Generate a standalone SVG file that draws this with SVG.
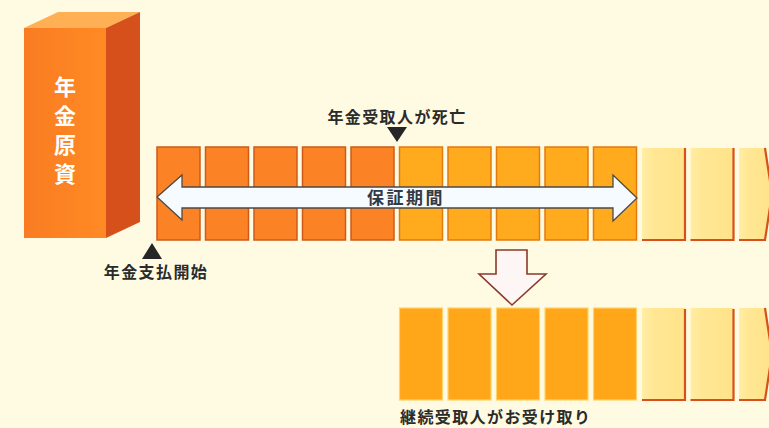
<svg xmlns="http://www.w3.org/2000/svg" width="769" height="428" viewBox="0 0 769 428">
  <defs>
    <style>
      .jp { font-family: "Noto Sans CJK JP", "Noto Sans CJK SC", sans-serif; font-weight: 700; }
      .label { fill: #2b2b2b; font-size: 16px; letter-spacing: 1.4px; }
      .dark { fill: #fb8326; stroke: #cf5a18; stroke-width: 1.5; }
      .mid { fill: #ffab1d; stroke: #e27a0f; stroke-width: 1.5; }
      .heir { fill: #ffa619; stroke: #ffd36a; stroke-width: 1.2; }
      .paleEdge { fill: none; stroke: #d6501c; stroke-width: 2.2; }
      .pointer { fill: #262626; }
    </style>
    <linearGradient id="frontFace" x1="0" y1="0" x2="1" y2="0">
      <stop offset="0" stop-color="#f97c22"/>
      <stop offset="1" stop-color="#ff8a24"/>
    </linearGradient>
    <linearGradient id="paleFill" x1="0" y1="0" x2="1" y2="0">
      <stop offset="0" stop-color="#ffeea6"/>
      <stop offset="0.25" stop-color="#ffe794"/>
      <stop offset="1" stop-color="#ffe38a"/>
    </linearGradient>
  </defs>

  <!-- background -->
  <rect x="0" y="0" width="769" height="428" fill="#fffbe2"/>

  <!-- pension fund pillar -->
  <g id="fund">
    <polygon points="24,28 58,12 140,12 106,28" fill="#ffb054"/>
    <polygon points="106,28 140,12 140,222 106,238" fill="#d6501b"/>
    <rect x="24" y="28" width="82" height="210" fill="url(#frontFace)"/>
    <text class="jp" x="65" y="76" fill="#ffffff" font-size="22" writing-mode="vertical-rl" letter-spacing="7">年金原資</text>
  </g>

  <!-- guaranteed payments: annuitant period -->
  <g id="payments-annuitant">
    <rect class="dark" x="157" y="147" width="43" height="93"/>
    <rect class="dark" x="205.5" y="147" width="43" height="93"/>
    <rect class="dark" x="254" y="147" width="43" height="93"/>
    <rect class="dark" x="302.5" y="147" width="43" height="93"/>
    <rect class="dark" x="351" y="147" width="43" height="93"/>
  </g>

  <!-- guaranteed payments after death -->
  <g id="payments-remaining">
    <rect class="mid" x="399.5" y="147" width="43" height="93"/>
    <rect class="mid" x="448" y="147" width="43" height="93"/>
    <rect class="mid" x="496.5" y="147" width="43" height="93"/>
    <rect class="mid" x="545" y="147" width="43" height="93"/>
    <rect class="mid" x="593.5" y="147" width="43" height="93"/>
  </g>

  <!-- payments beyond the guarantee (top row) -->
  <g id="payments-beyond-top">
    <rect x="642" y="148" width="43" height="92" fill="url(#paleFill)"/>
    <polyline class="paleEdge" points="685,148 685,240 642,240"/>
    <rect x="690.5" y="148" width="43" height="92" fill="url(#paleFill)"/>
    <polyline class="paleEdge" points="733.5,148 733.5,240 690.5,240"/>
    <polygon points="739,148 765,148 772,194 765,240 739,240" fill="url(#paleFill)"/>
    <polyline class="paleEdge" points="765,148 772,194 765,240 739,240"/>
  </g>

  <!-- payments received by the successor -->
  <g id="payments-heir">
    <rect class="heir" x="399.5" y="308" width="43" height="92"/>
    <rect class="heir" x="448" y="308" width="43" height="92"/>
    <rect class="heir" x="496.5" y="308" width="43" height="92"/>
    <rect class="heir" x="545" y="308" width="43" height="92"/>
    <rect class="heir" x="593.5" y="308" width="43" height="92"/>
  </g>

  <!-- payments beyond the guarantee (bottom row) -->
  <g id="payments-beyond-bottom">
    <rect x="642" y="308" width="43" height="92" fill="url(#paleFill)"/>
    <polyline class="paleEdge" points="685,309 685,400 642,400"/>
    <rect x="690.5" y="308" width="43" height="92" fill="url(#paleFill)"/>
    <polyline class="paleEdge" points="733.5,309 733.5,400 690.5,400"/>
    <polygon points="739,308 765,308 772,354 765,400 739,400" fill="url(#paleFill)"/>
    <polyline class="paleEdge" points="765,308 772,354 765,400 739,400"/>
  </g>

  <!-- event labels with pointers -->
  <g id="start-label">
    <polygon class="pointer" points="152,243 162,259 142,259"/>
    <text class="jp label" x="156" y="278" text-anchor="middle">年金支払開始</text>
  </g>
  <g id="death-label">
    <text class="jp label" x="397" y="123" text-anchor="middle">年金受取人が死亡</text>
    <polygon class="pointer" points="387,127 407,127 397,142"/>
  </g>
  <g id="heir-label">
    <text class="jp label" x="400" y="423" font-size="15.5">継続受取人がお受け取り</text>
  </g>

  <!-- connectors -->
  <g id="connectors">
    <polygon points="157,197 182,175 182,187 613,187 613,175 637,198 613,221 613,208 182,208 182,220"
             fill="#f6fbff" stroke="#4a4a4a" stroke-width="1.3" stroke-linejoin="miter"/>
    <text class="jp" x="406" y="204" text-anchor="middle" font-size="17" letter-spacing="2.5" fill="#333a44">保証期間</text>
    <polygon points="496,250 527,250 527,274 546,274 512,305 479,274 496,274"
             fill="#fdf6f4" stroke="#8a3a2a" stroke-width="1.6"/>
  </g>
</svg>
